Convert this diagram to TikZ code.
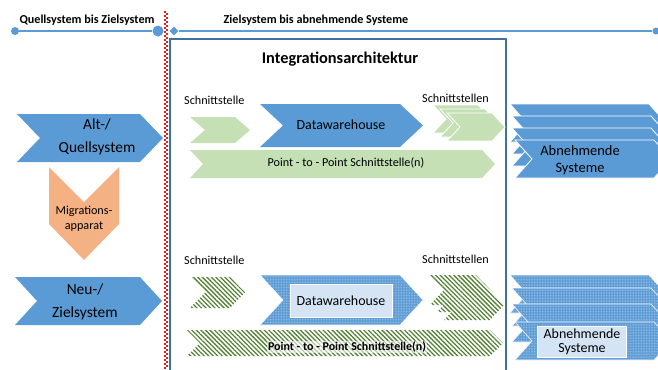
\documentclass[tikz,border=0pt]{standalone}
\usepackage{fontspec}
\setmainfont{Carlito}
\usetikzlibrary{patterns,patterns.meta,shapes.geometric}
\definecolor{bl}{HTML}{5B9BD5}
\definecolor{bd}{HTML}{41719C}
\definecolor{gr}{HTML}{C5E0B4}
\definecolor{gd}{HTML}{548235}
\definecolor{orng}{HTML}{F4B183}
\definecolor{lb}{HTML}{D5E4F4}
\definecolor{rd}{HTML}{E02020}
\newcommand\chev[6][]{\path[#1] (#2,#3) -- ({#4-#6},#3) -- (#4,{(#3+#5)/2}) -- ({#4-#6},#5) -- (#2,#5) -- ({#2+#6},{(#3+#5)/2}) -- cycle;}
\tikzset{
  plain/.style={fill=#1},
  outl/.style={fill=#1, draw=white, line width=0.8bp},
  ghatch/.style={fill=white, postaction={pattern={Lines[angle=-45,distance=3.2bp,line width=1.3bp]}, pattern color=gd}},
  bhatch/.style={fill=bl, draw=white, line width=0.6bp, postaction={pattern={Dots[distance=1.6bp,radius=0.45bp]}, pattern color=white!45!bl}},
  lbl/.style={inner sep=0pt, font=\fontsize{12.2}{14}\selectfont},
  hd/.style={inner sep=0pt, font=\bfseries\fontsize{12.2}{14}\selectfont},
  big/.style={inner sep=0pt, align=center, font=\fontsize{15.5}{23}\selectfont},
}
\begin{document}
\begin{tikzpicture}[x=1bp,y=-1bp]
\useasboundingbox (0,0) rectangle (658,369);
% integration box
\draw[bd, line width=1.5bp] (170,39) rectangle (506,375);
\node[inner sep=0pt, font=\bfseries\fontsize{16.4}{18}\selectfont] (title) at (340,59) {Integrationsarchitektur};
% timeline
\node[circle, fill=bl, inner sep=0pt, minimum size=8bp] (d1) at (15,31) {};
\node[circle, fill=bl, inner sep=0pt, minimum size=11bp] (d2) at (158,31) {};
\draw[bl, line width=2.5bp] (d1) -- (d2);
\node[diamond, fill=bl, inner sep=0pt, minimum size=9bp] (dm) at (174,31) {};
\node[circle, fill=bl, inner sep=0pt, minimum size=7bp] (d3) at (656,31) {};
\draw[bl, line width=2.5bp] (dm) -- (d3);
\node[hd] (t1) at (87,20) {Quellsystem bis Zielsystem};
\node[hd] (t2) at (316,20) {Zielsystem bis abnehmende Systeme};
% red checkered separator
\draw[rd, line width=1.6bp, dash pattern=on 2bp off 2bp] (165.2,11) -- (165.2,369);
\draw[rd, line width=1.6bp, dash pattern=on 2bp off 2bp, dash phase=2bp] (166.8,11) -- (166.8,369);
% left column
\chev[plain=bl]{17}{114}{163}{162}{23}
\node[big] (alt) at (97,137) {Alt-/\\Quellsystem};
\path[fill=orng] (49,167) -- (84,202) -- (119,167) -- (119,224) -- (84,260) -- (49,224) -- cycle;
\node[inner sep=0pt, align=center, font=\fontsize{12.2}{15}\selectfont] (mig) at (84,219) {Migrations-\\apparat};
\chev[plain=bl]{15}{277}{162}{325}{22}
\node[big] (neu) at (85,302) {Neu-/\\Zielsystem};
% top row
\node[lbl, anchor=west] (s1) at (184,100) {Schnittstelle};
\chev[plain=gr]{190}{117}{250}{143}{15}
\chev[plain=bl]{260}{104}{423}{147}{23}
\node[inner sep=0pt, font=\fontsize{14}{16}\selectfont] (dw1) at (341,125) {Datawarehouse};
\node[lbl, anchor=west] (s2) at (422,98) {Schnittstellen};
\chev[outl=gr]{433}{105}{491}{133}{13}
\chev[outl=gr]{440}{109}{498}{137}{13}
\chev[outl=gr]{447}{113}{505}{141}{13}
\chev[plain=gr]{190}{150}{495}{178}{13}
\node[lbl] (p1) at (346,163) {Point - to - Point Schnittstelle(n)};
\chev[outl=bl]{510}{104}{666}{142}{17}
\chev[outl=bl]{512}{116}{668}{154}{17}
\chev[outl=bl]{512}{128}{668}{166}{17}
\chev[outl=bl]{515}{140}{671}{178}{17}
\node[inner sep=0pt, align=center, font=\fontsize{14.5}{16.5}\selectfont] (ab1) at (580,160) {Abnehmende\\Systeme};
% bottom row
\node[lbl, anchor=west] (s3) at (184,260) {Schnittstelle};
\chev[ghatch]{190}{277}{245}{308}{15}
\chev[bhatch]{260}{275}{423}{325}{23}
\node[draw=white, line width=0.5bp, fill=lb, minimum width=102bp, minimum height=33bp, inner sep=0pt, font=\fontsize{14}{16}\selectfont] (dw2) at (341,301) {Datawarehouse};
\node[lbl, anchor=west] (s4) at (422,259) {Schnittstellen};
\chev[ghatch]{430}{275}{490}{305}{14}
\chev[ghatch]{437}{282}{497}{312}{14}
\chev[ghatch]{444}{290}{504}{320}{14}
\chev[ghatch]{187}{330}{503}{356}{13}
\node[lbl, font=\bfseries\fontsize{12}{14}\selectfont, fill=white, fill opacity=0.6, text opacity=1, inner sep=1bp] (p2) at (347,347) {Point - to - Point Schnittstelle(n)};
\chev[bhatch]{510}{275}{666}{313}{17}
\chev[bhatch]{512}{288}{668}{326}{17}
\chev[bhatch]{512}{304}{668}{342}{17}
\chev[bhatch]{515}{322}{671}{360}{17}
\node[draw=white, line width=0.5bp, fill=lb, minimum width=89bp, minimum height=31bp, inner sep=0pt, align=center, font=\fontsize{14}{14.5}\selectfont] (ab2) at (582,342) {Abnehmende\\Systeme};
\end{tikzpicture}
\end{document}
